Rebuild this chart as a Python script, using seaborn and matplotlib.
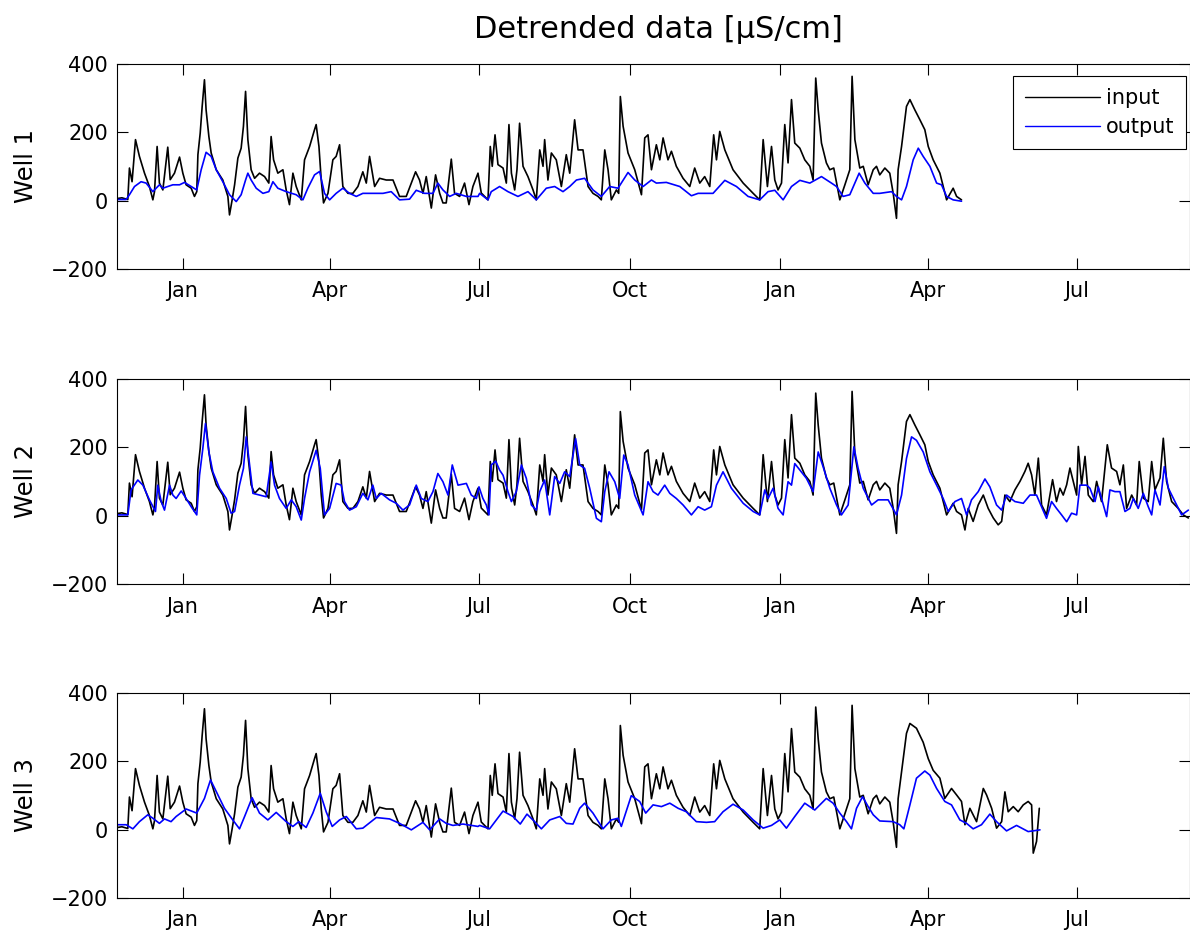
import numpy as np
import pandas as pd
import matplotlib
matplotlib.use("Agg")
import matplotlib.pyplot as plt
import matplotlib.dates as mdates
import seaborn as sns

# ---------------- data (day offsets from 1 Jan of first year, values in uS/cm) ----------------
BASE_DATE = "2010-01-01"

input_common_day = [-41, -37, -33.4, -32.4, -30.8, -28.7, -26.3, -23.2, -20.2, -18.1, -17.1, -15.5, -14.1, -12.0,
                    -9.0, -7.5, -4.9, -1.8, 0.2, 2.2, 5.3, 7.3, 8.7, 9.4, 10.8, 12.0, 13.4, 14.4, 16.1, 17.5,
                    20.6, 24.6, 27.7, 28.7, 30.3, 31.8, 33.8, 35.8, 37.2, 38.5, 39.9, 41.9, 44.0, 47.0, 50.1,
                    52.7, 54.1, 55.6, 58.2, 61.3, 63.3, 65.3, 67.4, 69.4, 72.5, 74.5, 77.6, 80.6, 81.6, 83.3,
                    84.7, 86.1, 88.8, 91.8, 93.8, 95.9, 97.9, 101.0, 104.0, 107.1, 110.1, 112.2, 114.2, 117.3,
                    120.3, 124.4, 128.5, 132.5, 136.6, 139.7, 142.3, 144.7, 146.8, 148.8, 151.9, 154.5, 157.0,
                    159.0, 161.0, 164.1, 166.1, 169.2, 172.2, 174.9, 177.3, 180.4, 182.4, 186.5, 187.9, 189.1,
                    190.8, 192.6, 195.7, 197.7, 199.3, 200.8, 202.8, 204.2, 205.8, 207.9, 210.9, 214.0, 216.0,
                    218.1, 220.1, 221.1, 223.1, 225.2, 228.2, 231.3, 234.3, 236.4, 239.4, 241.5, 244.5, 247.6,
                    250.6, 253.7, 255.7, 257.8, 259.8, 261.8, 264.9, 266.3, 267.3, 269.0, 272.0, 276.1, 280.2,
                    282.2, 284.2, 286.3, 289.3, 291.4, 293.4, 296.4, 298.5, 301.5, 305.6, 309.7, 312.7, 315.8,
                    318.8, 321.9, 324.3, 326.0, 328.0, 331.1, 336.1, 342.3, 348.4, 352.4, 354.5, 357.1, 359.6,
                    361.6, 363.6, 365.7, 367.7, 369.7, 371.8, 373.8, 376.9, 379.9, 383.0, 385.0, 386.6, 388.1,
                    390.1, 393.1, 395.2, 397.6, 401.3, 404.4, 407.4, 408.8, 410.5, 413.5, 415.6, 418.6, 421.7,
                    423.7, 425.7, 428.8, 431.8, 433.9, 435.9, 436.9]
input_common_val = [5, 8, 3, 95, 55, 178, 129, 80, 41, 2, 26, 158, 51, 31,
                    156, 61, 80, 127, 80, 46, 36, 12, 26, 134, 197, 275, 353, 265, 187, 139,
                    90, 60, 12, -42, 2, 46, 124, 153, 217, 319, 178, 90, 65, 80, 70,
                    51, 187, 119, 80, 90, 31, -12, 80, 41, 2, 119, 158, 207, 222, 158,
                    60, -7, 21, 119, 129, 163, 41, 21, 21, 41, 84, 51, 129, 41,
                    65, 60, 60, 12, 12, 51, 84, 60, 21, 70, -22, 75, 21,
                    -7, -7, 121, 21, 12, 51, -12, 41, 80, 22, 2, 158, 100,
                    192, 105, 95, 51, 222, 80, 31, 90, 226, 100, 70, 31, 2,
                    148, 100, 178, 60, 139, 119, 41, 134, 80, 236, 148, 148, 41,
                    21, 12, 2, 148, 90, 2, 31, 21, 304, 217, 139, 90, 17,
                    183, 192, 90, 163, 119, 183, 119, 144, 100, 65, 41, 95, 51,
                    70, 41, 192, 119, 202, 148, 90, 51, 21, 2, 178, 41, 158,
                    60, 31, 51, 222, 110, 295, 168, 153, 119, 100, 60, 358, 265,
                    168, 110, 90, 95, 2, 46, 90, 363, 178, 95, 100, 46, 90,
                    100, 75, 95, 80, 21, -52, 90]

# tail shared by wells 1 and 2 (spring of second year)
input_tail12_day = [439.0, 442.0, 444.1, 447.1, 450.2, 453.2, 455.3, 458.3, 462.4, 466.5, 470.5, 472.6, 475.6]
input_tail12_val = [158, 275, 295, 265, 236, 207, 158, 119, 80, 2, 36, 12, 2]

# extra tail of well 2 (until September)
input_tail2_day = [477.7, 479.7, 482.7, 485.8, 488.9, 491.9, 495.0, 498.0, 500.1, 502.1, 505.1, 508.2, 511.3,
                   514.3, 516.3, 518.4, 520.4, 522.5, 524.5, 527.5, 531.2, 533.6, 535.7, 537.7, 539.8, 541.8,
                   543.8, 545.9, 546.9, 548.9, 551.0, 553.0, 556.0, 558.1, 561.1, 564.6, 567.2, 570.3, 572.3,
                   574.4, 576.4, 579.5, 582.5, 584.1, 586.6, 589.6, 591.7, 593.7, 596.8, 598.8, 600.8, 603.9,
                   607.9, 611.0, 614.1]
input_tail2_val = [-42, 21, -17, 31, 60, 21, -7, -27, -17, 60, 41, 75, 100,
                   129, 153, 119, 60, 168, 31, 2, 105, 41, 80, 60, 90, 139,
                   100, 60, 202, 90, 173, 60, 41, 100, 41, 207, 139, 129, 90,
                   148, 21, 60, 31, 158, 51, 41, 158, 75, 110, 226, 100, 41,
                   21, 2, -7]

# tail of well 3 (until June)
input_tail3_day = [439.0, 442.0, 444.1, 448.1, 452.2, 455.3, 458.3, 462.4, 465.4, 469.5, 472.6, 475.6, 477.7,
                   480.7, 484.8, 488.9, 490.9, 494.0, 497.0, 500.1, 502.1, 504.1, 507.2, 510.2, 513.3, 516.3,
                   518.4, 519.4, 521.4, 523.1]
input_tail3_val = [169, 281, 310, 296, 255, 207, 173, 150, 91, 120, 101, 82, 14,
                   62, 23, 120, 101, 62, 4, 23, 110, 52, 67, 52, 72, 82,
                   72, -69, -35, 62]

output1_day = [-40.9, -34.4, -32.4, -29.3, -25.3, -22.2, -18.1, -14.1, -12.0, -9.0, -5.9, -1.8, 1.2, 5.3, 8.7,
               11.4, 14.4, 17.5, 20.6, 24.6, 28.7, 32.8, 35.8, 38.5, 39.9, 41.9, 45.0, 49.1, 52.7, 55.2, 58.2,
               63.3, 69.4, 73.5, 76.5, 80.6, 83.7, 86.7, 89.8, 93.8, 97.9, 102.0, 106.1, 110.1, 116.2, 122.4,
               127.4, 132.5, 138.6, 142.7, 147.8, 152.9, 155.9, 159.0, 163.1, 167.1, 173.3, 180.4, 181.4,
               186.5, 188.5, 193.6, 198.7, 204.8, 210.9, 216.0, 222.1, 227.2, 232.3, 236.4, 240.5, 245.5,
               250.6, 255.7, 260.8, 265.9, 272.0, 276.1, 281.2, 286.3, 289.3, 295.4, 303.6, 310.7, 314.8,
               323.9, 331.1, 338.2, 345.3, 352.4, 357.5, 361.6, 366.7, 371.8, 376.9, 383.0, 390.1, 396.2,
               399.3, 403.3, 407.4, 413.1, 416.6, 421.7, 425.7, 432.9, 435.9, 439.0, 442.0, 446.1, 449.2,
               452.2, 456.3, 460.4, 463.4, 466.5, 470.5, 475.6]
output1_val = [3, 3, 17, 41, 55, 51, 26, 46, 36, 41, 46, 46, 53, 41, 31,
               90, 141, 129, 90, 55, 17, -3, 17, 60, 80, 60, 36, 21, 26, 55, 36,
               26, 17, 2, 36, 75, 85, 21, 2, 21, 36, 21, 12, 21, 21, 21,
               26, 2, 4, 30, 21, 21, 51, 31, 12, 21, 12, 12, 21,
               2, 26, 41, 26, 12, 26, 2, 36, 41, 26, 41, 60, 65,
               31, 12, 41, 36, 82, 60, 41, 60, 51, 53, 41, 14, 21,
               21, 59, 41, 12, 2, 26, 30, 2, 41, 59, 51, 70, 51,
               41, 12, 17, 80, 51, 21, 21, 26, 12, 2, 41, 119, 153,
               129, 100, 51, 46, 12, 2, -2]

output2_day = [-40.9, -33.4, -31.4, -27.3, -24.2, -20.2, -16.5, -15.1, -13.0, -11.0, -7.9, -5.9, -3.9, -0.8,
               2.2, 5.3, 8.7, 10.4, 12.4, 14.0, 16.1, 18.5, 22.6, 26.7, 29.7, 31.8, 34.8, 37.2, 38.9, 40.5,
               43.0, 47.0, 51.1, 54.1, 56.2, 59.2, 63.3, 66.4, 69.4, 72.5, 74.5, 77.6, 81.6, 84.1, 86.7,
               89.8, 93.8, 96.9, 98.9, 102.0, 106.1, 110.1, 113.2, 116.2, 118.3, 121.3, 126.4, 130.5, 134.6,
               138.6, 142.7, 145.8, 149.8, 152.9, 155.9, 159.0, 162.1, 164.7, 168.2, 173.3, 176.3, 179.4,
               181.0, 183.4, 185.5, 187.1, 188.5, 191.2, 193.6, 195.7, 198.7, 200.8, 203.8, 206.9, 209.9,
               213.0, 216.0, 218.1, 221.1, 224.2, 227.2, 230.3, 233.3, 236.4, 240.0, 242.5, 245.5, 248.6,
               252.7, 255.7, 257.8, 260.4, 263.9, 266.9, 269.4, 272.0, 276.1, 281.2, 284.2, 287.3, 290.3,
               294.4, 297.5, 301.5, 305.6, 310.7, 314.8, 318.8, 322.9, 326.0, 330.0, 335.1, 342.3, 348.4,
               352.4, 355.5, 357.5, 360.6, 363.6, 366.7, 369.7, 371.8, 373.8, 376.9, 380.9, 385.0, 388.1,
               391.1, 395.2, 399.3, 402.3, 406.4, 409.9, 412.5, 415.6, 420.7, 424.7, 430.8, 435.9, 439.0,
               442.0, 445.1, 448.1, 452.2, 456.3, 460.4, 464.4, 467.5, 471.6, 475.6, 478.7, 481.7, 485.8,
               489.9, 492.9, 497.0, 500.1, 503.1, 508.2, 513.3, 517.4, 521.4, 527.5, 530.6, 533.6, 536.7,
               539.8, 542.8, 545.9, 547.9, 552.0, 554.0, 557.1, 559.1, 564.2, 566.2, 569.3, 572.3, 575.4,
               578.4, 580.5, 583.5, 586.6, 589.6, 591.7, 593.7, 596.8, 599.4, 601.9, 605.9, 610.0, 614.1]
output2_val = [2, 2, 75, 104, 89, 46, 12, 89, 41, 16, 89, 60, 50, 72,
               50, 26, 2, 118, 196, 269, 186, 128, 80, 50, 7, 12, 89, 138, 230, 167,
               65, 60, 55, 157, 89, 50, 21, 46, 26, -13, 50, 128, 191, 138, 2,
               21, 94, 89, 41, 16, 26, 65, 46, 89, 50, 65, 46, 36, 16,
               31, 89, 50, 41, 70, 123, 99, 60, 148, 89, 94, 60, 50,
               84, 50, 31, 2, 148, 159, 133, 118, 70, 41, 70, 148, 109,
               31, 16, 70, 104, 2, 114, 94, 128, 114, 225, 148, 138, 80,
               -8, -18, 70, 128, 99, 50, 177, 148, 60, 2, 99, 70, 60,
               89, 65, 50, 31, 2, 26, 16, 26, 89, 128, 80, 36, 12,
               2, 75, 50, 80, 21, 2, 99, 89, 152, 133, 109, 70, 186,
               143, 80, 31, 2, 31, 201, 138, 80, 31, 46, 46, 2, 60,
               167, 230, 220, 186, 128, 89, 50, 12, 41, 50, 2, 46, 70,
               107, 84, 31, 16, 60, 41, 36, 60, 60, -8, 41, 21, 2,
               -18, 7, 2, 89, 89, 80, 41, 84, -3, 75, 70, 70, 12,
               21, 50, 21, 65, 26, 2, 75, 31, 143, 80, 41, 2, 16]

output3_day = [-40.9, -34.4, -30.3, -26.3, -21.2, -18.1, -14.1, -11.0, -7.0, -3.9, 2.2, 8.7, 13.4, 17.1, 20.6,
               25.6, 30.7, 34.8, 37.9, 42.5, 47.0, 52.1, 57.2, 63.3, 67.4, 71.0, 75.5, 79.6, 84.1, 87.7, 91.4,
               95.9, 100.0, 106.1, 110.1, 118.3, 126.4, 132.5, 139.7, 146.8, 150.9, 157.0, 161.0, 165.1,
               171.2, 180.4, 181.4, 187.5, 195.7, 201.8, 206.2, 210.3, 215.0, 219.1, 224.2, 230.3, 234.3,
               238.4, 242.5, 245.5, 250.6, 256.7, 261.8, 265.9, 267.9, 274.0, 279.1, 282.8, 287.3, 292.4,
               297.5, 302.6, 307.6, 313.7, 319.9, 324.9, 330.0, 336.1, 342.3, 348.4, 354.5, 359.6, 364.6,
               368.7, 373.8, 379.9, 386.0, 393.1, 397.2, 401.3, 405.4, 408.4, 411.5, 415.2, 418.6, 421.7,
               425.7, 433.9, 437.9, 440.4, 444.1, 448.1, 453.2, 456.3, 460.4, 465.4, 469.5, 474.6, 478.7,
               482.7, 487.8, 492.9, 497.0, 503.1, 509.2, 516.3, 523.5]
output3_val = [14, 14, 2, 23, 43, 33, 18, 31, 23, 38, 60, 48, 91, 145, 111,
               62, 28, 2, 38, 93, 48, 28, 50, 23, 9, 23, 6, 48, 106, 52, 9,
               28, 38, 2, 4, 35, 31, 18, -1, 21, -1, 31, 18, 12,
               16, 9, 12, 2, 54, 38, 16, 45, 23, 2, 28, 38, 18,
               16, 62, 77, 48, 2, 28, 33, 9, 99, 82, 48, 72, 67,
               77, 62, 52, 23, 21, 23, 52, 74, 57, 28, 4, 12, 28,
               4, 38, 77, 57, 91, 77, 48, 23, 2, 62, 96, 67, 43,
               25, 23, 14, 2, 72, 150, 171, 159, 120, 82, 72, 28, 18,
               2, 14, 45, 23, -4, 12, -6, -1]

well_names = ["Well 1", "Well 2", "Well 3"]
series_names = ["input", "output"]
series_colors = {"input": "black", "output": "blue"}
y_ticks = [-200, 0, 200, 400]
title_text = "Detrended data [\u03bcS/cm]"

# ---------------- build per-well tables ----------------
well_input_day = [
    input_common_day + input_tail12_day,
    input_common_day + input_tail12_day + input_tail2_day,
    input_common_day + input_tail3_day,
]
well_input_val = [
    input_common_val + input_tail12_val,
    input_common_val + input_tail12_val + input_tail2_val,
    input_common_val + input_tail3_val,
]
well_output_day = [output1_day, output2_day, output3_day]
well_output_val = [output1_val, output2_val, output3_val]

base = pd.Timestamp(BASE_DATE)


def make_frame(days, vals, name):
    return pd.DataFrame({
        "date": base + pd.to_timedelta(np.asarray(days, dtype=float), unit="D"),
        "value": np.asarray(vals, dtype=float),
        "series": name,
    })


# ---------------- style ----------------
sns.set_theme(style="ticks")
plt.rcParams.update({
    "font.family": ["DejaVu Sans"],
    "text.color": "black",
    "axes.labelcolor": "black",
    "xtick.direction": "in",
    "ytick.direction": "in",
    "xtick.top": True,
    "ytick.right": True,
    "axes.linewidth": 0.8,
    "axes.edgecolor": "black",
    "xtick.color": "black",
    "ytick.color": "black",
    "axes.facecolor": "white",
    "figure.facecolor": "white",
})

fig = plt.figure(figsize=(11.90, 9.31), dpi=100)
left = 116.5 / 1190
width = 1.0 - left
height = 0.2205
bottoms = [0.7111, 0.3727, 0.0355]
xlim = (base + pd.Timedelta(days=-40.3), base + pd.Timedelta(days=615.1))

for i in range(3):
    ax = fig.add_axes([left, bottoms[i], width, height])
    df = pd.concat([
        make_frame(well_input_day[i], well_input_val[i], "input"),
        make_frame(well_output_day[i], well_output_val[i], "output"),
    ], ignore_index=True)
    sns.lineplot(data=df, x="date", y="value", hue="series", hue_order=series_names,
                 palette=series_colors, estimator=None, sort=False, linewidth=1.2,
                 legend=False, ax=ax)
    ax.set_xlim(*xlim)
    ax.set_ylim(-200, 400)
    ax.set_yticks(y_ticks)
    ax.xaxis.set_major_locator(mdates.MonthLocator(bymonth=[1, 4, 7, 10]))
    ax.xaxis.set_major_formatter(mdates.DateFormatter("%b"))
    ax.xaxis.set_minor_locator(matplotlib.ticker.NullLocator())
    ax.tick_params(axis="both", which="major", length=8, width=0.8, labelsize=15,
                   top=True, right=True, direction="in", colors="black")
    ax.tick_params(axis="x", pad=9)
    ax.tick_params(axis="y", pad=6)
    ax.set_xlabel("")
    ax.set_ylabel(well_names[i], fontsize=17.5, color="black")
    ax.yaxis.set_label_coords(-0.073, 0.5)
    for sp in ax.spines.values():
        sp.set_visible(True)
        sp.set_color("black")
        sp.set_linewidth(0.8)
    if i == 0:
        handles = [matplotlib.lines.Line2D([], [], color=series_colors[s], linewidth=1.0) for s in series_names]
        leg = ax.legend(handles, series_names, loc="upper right", bbox_to_anchor=(0.9963, 0.938),
                        borderaxespad=0, fontsize=15, handlelength=3.6, handletextpad=0.3,
                        labelspacing=0.45, borderpad=0.55, fancybox=False, framealpha=1,
                        edgecolor="black")
        leg.get_frame().set_linewidth(0.8)
        for t in leg.get_texts():
            t.set_color("black")

fig.text(658 / 1190, 1 - 38 / 931, title_text, ha="center", va="baseline", fontsize=22, color="black")

fig.savefig("out.png", dpi=100)
